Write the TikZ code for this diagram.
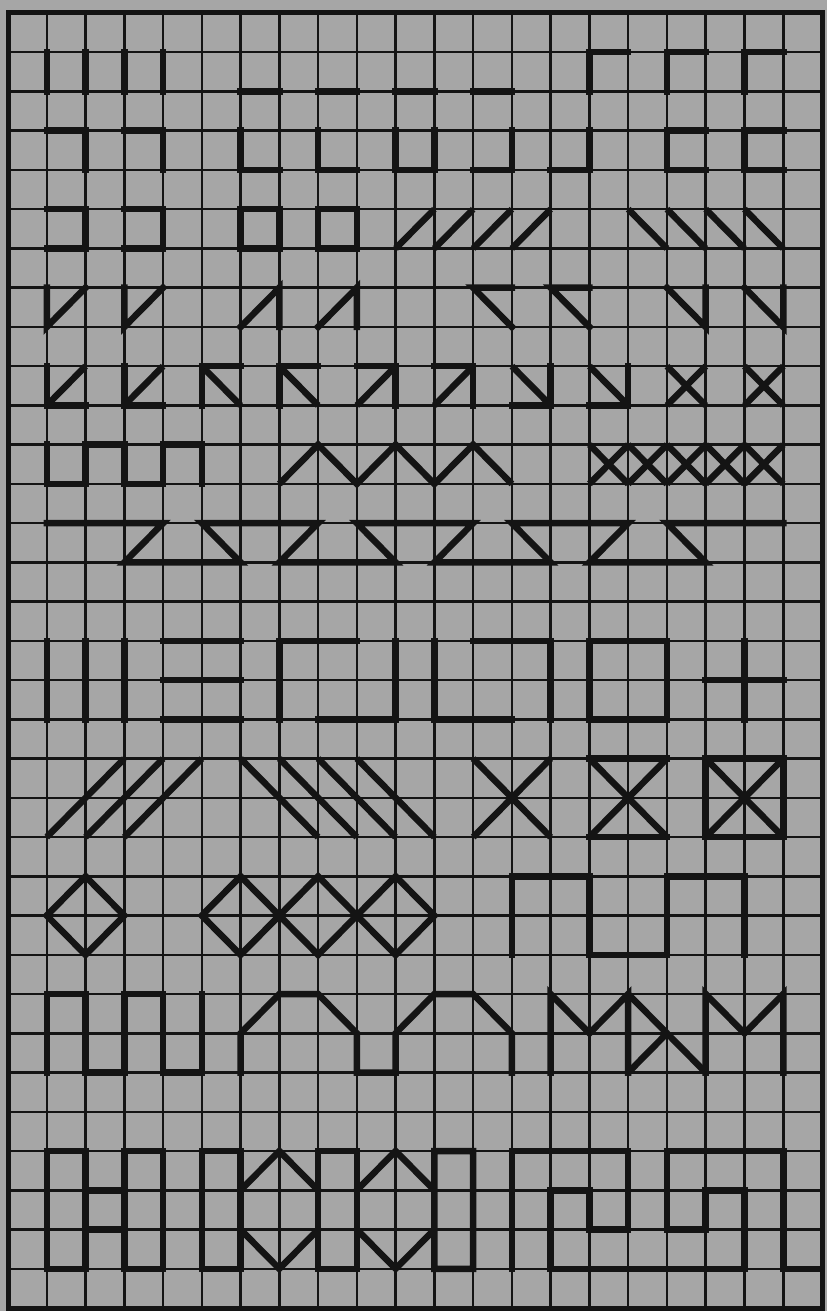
\documentclass[tikz,border=0pt]{standalone}
\definecolor{paper}{RGB}{166,166,166}
\definecolor{ink}{RGB}{20,20,20}
\tikzset{
  gridline/.style={ink, line width=2.5pt},
  frameline/.style={ink, line width=5pt},
  pat/.style={ink, line width=6.5pt, line cap=rect, line join=miter},
  dpat/.style={ink, line width=6.5pt, line cap=butt, line join=miter}
}
\begin{document}
\begin{tikzpicture}[x=1pt,y=1pt]
\useasboundingbox (0,0) rectangle (827,-1311);
\fill[paper] (0,0) rectangle (827,-1311);
\begin{scope}[shift={(8pt,-13pt)}, x=38.762pt, y=-39.242pt]
  \foreach \c in {1,...,20} {\draw[gridline] (\c,0)--(\c,33);}
  \foreach \r in {1,...,32} {\draw[gridline] (0,\r)--(21,\r);}
  \draw[frameline] (0,0) rectangle (21,33);
  % band 1
  \draw[pat] (1,1)--(1,2) (2,1)--(2,2) (3,1)--(3,2) (4,1)--(4,2);
  \draw[pat] (6,2)--(7,2) (8,2)--(9,2) (10,2)--(11,2) (12,2)--(13,2);
  \draw[pat] (15,2)--(15,1)--(16,1) (17,2)--(17,1)--(18,1) (19,2)--(19,1)--(20,1);
  % band 2
  \draw[pat] (1,3)--(2,3)--(2,4) (3,3)--(4,3)--(4,4);
  \draw[pat] (6,3)--(6,4)--(7,4) (8,3)--(8,4)--(9,4);
  \draw[pat] (10,3)--(10,4)--(11,4)--(11,3);
  \draw[pat] (12,4)--(13,4)--(13,3) (14,4)--(15,4)--(15,3);
  \draw[pat] (18,3)--(17,3)--(17,4)--(18,4) (20,3)--(19,3)--(19,4)--(20,4);
  % band 3
  \draw[pat] (1,5)--(2,5)--(2,6)--(1,6) (3,5)--(4,5)--(4,6)--(3,6);
  \draw[pat] (6,5) rectangle (7,6) (8,5) rectangle (9,6);
  \draw[dpat] (10,6)--(11,5) (11,6)--(12,5) (12,6)--(13,5) (13,6)--(14,5);
  \draw[dpat] (16,5)--(17,6) (17,5)--(18,6) (18,5)--(19,6) (19,5)--(20,6);
  % band 4
  \draw[pat] (1,7)--(1,8)--(2,7) (3,7)--(3,8)--(4,7);
  \draw[pat] (6,8)--(7,7)--(7,8) (8,8)--(9,7)--(9,8);
  \draw[pat] (13,7)--(12,7)--(13,8) (15,7)--(14,7)--(15,8);
  \draw[pat] (17,7)--(18,8)--(18,7) (19,7)--(20,8)--(20,7);
  % band 5
  \draw[pat] (1,9)--(1,10)--(2,10) (3,9)--(3,10)--(4,10);
  \draw[dpat] (1,10)--(2,9) (3,10)--(4,9);
  \draw[pat] (6,9)--(5,9)--(5,10) (8,9)--(7,9)--(7,10);
  \draw[dpat] (5,9)--(6,10) (7,9)--(8,10);
  \draw[pat] (9,9)--(10,9)--(10,10) (11,9)--(12,9)--(12,10);
  \draw[dpat] (9,10)--(10,9) (11,10)--(12,9);
  \draw[pat] (14,9)--(14,10)--(13,10) (16,9)--(16,10)--(15,10);
  \draw[dpat] (13,9)--(14,10) (15,9)--(16,10);
  \draw[dpat] (17,9)--(18,10) (17,10)--(18,9) (19,9)--(20,10) (19,10)--(20,9);
  % band 6
  \draw[pat] (1,11)--(1,12)--(2,12)--(2,11)--(3,11)--(3,12)--(4,12)--(4,11)--(5,11)--(5,12);
  \draw[dpat] (7,12)--(8,11)--(9,12)--(10,11)--(11,12)--(12,11)--(13,12);
  \foreach \c in {15,...,19} {\draw[dpat] (\c,11)--(\c+1,12) (\c,12)--(\c+1,11);}
  % band 7
  \draw[pat] (1,13)--(4,13)--(3,14)--(6,14)--(5,13)--(8,13)--(7,14)--(10,14)--(9,13)--(12,13)--(11,14)--(14,14)--(13,13)--(16,13)--(15,14)--(18,14)--(17,13)--(20,13);
  % band 8
  \draw[pat] (1,16)--(1,18) (2,16)--(2,18) (3,16)--(3,18);
  \draw[pat] (4,16)--(6,16) (4,17)--(6,17) (4,18)--(6,18);
  \draw[pat] (7,18)--(7,16)--(9,16) (8,18)--(10,18)--(10,16);
  \draw[pat] (12,16)--(14,16)--(14,18) (11,16)--(11,18)--(13,18);
  \draw[pat] (15,16) rectangle (17,18);
  \draw[pat] (19,16)--(19,18) (18,17)--(20,17);
  % band 9
  \draw[dpat] (1,21)--(3,19) (2,21)--(4,19) (3,21)--(5,19);
  \draw[dpat] (6,19)--(8,21) (7,19)--(9,21) (8,19)--(10,21) (9,19)--(11,21);
  \draw[dpat] (12,19)--(14,21) (12,21)--(14,19);
  \draw[pat] (15,19)--(17,19) (15,21)--(17,21);
  \draw[dpat] (15,19)--(17,21) (15,21)--(17,19);
  \draw[pat] (18,19) rectangle (20,21);
  \draw[dpat] (18,19)--(20,21) (18,21)--(20,19);
  % band 10
  \draw[pat] (1,23)--(2,22)--(3,23)--(2,24)--cycle;
  \draw[pat] (5,23)--(6,22)--(7,23)--(6,24)--cycle (7,23)--(8,22)--(9,23)--(8,24)--cycle (9,23)--(10,22)--(11,23)--(10,24)--cycle;
  \draw[pat] (13,24)--(13,22)--(15,22)--(15,24)--(17,24)--(17,22)--(19,22)--(19,24);
  % band 11
  \draw[pat] (1,27)--(1,25)--(2,25)--(2,27)--(3,27)--(3,25)--(4,25)--(4,27)--(5,27)--(5,25);
  \draw[pat] (6,27)--(6,26)--(7,25)--(8,25)--(9,26)--(9,27)--(10,27)--(10,26)--(11,25)--(12,25)--(13,26)--(13,27);
  \draw[pat] (14,27)--(14,25)--(15,26)--(16,25)--(16,27) (18,27)--(18,25)--(19,26)--(20,25)--(20,27);
  \draw[dpat] (16,25)--(18,27) (16,27)--(17,26);
  % band 12
  \draw[pat] (1,29) rectangle (2,32) (3,29) rectangle (4,32) (2,30)--(3,30) (2,31)--(3,31);
  \draw[pat] (5,29) rectangle (6,32) (8,29) rectangle (9,32);
  \draw[pat] (6,30)--(7,29)--(8,30) (6,31)--(7,32)--(8,31);
  \draw[pat] (9,30)--(10,29)--(11,30) (9,31)--(10,32)--(11,31) (11,29) rectangle (12,32);
  \draw[pat] (13,32)--(13,29)--(16,29)--(16,31)--(15,31)--(15,30)--(14,30)--(14,32)--(19,32)--(19,30)--(18,30)--(18,31)--(17,31)--(17,29)--(20,29)--(20,32)--(21,32);
\end{scope}
\end{tikzpicture}
\end{document}
